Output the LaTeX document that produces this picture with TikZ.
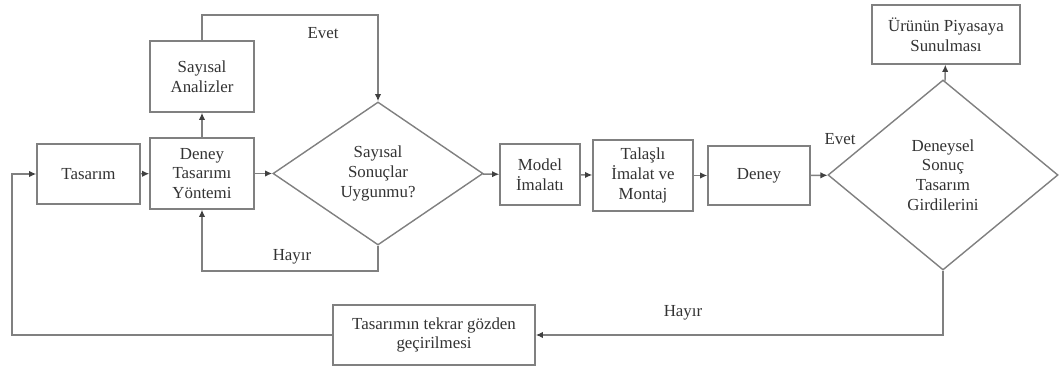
\documentclass[tikz,border=0pt]{standalone}
\usepackage{fontspec}
\setmainfont{Liberation Serif}
\newfontfamily\serifyazi{Liberation Serif}
\usetikzlibrary{shapes.geometric,arrows.meta}

\begin{document}
\begin{tikzpicture}[x=0.025cm,y=-0.025cm,line width=1pt,
    every node/.style={font=\serifyazi\fontsize{12}{14}\selectfont,text=black!80,align=center},
    kutu/.style={rectangle,draw=gray,fill=white,inner sep=2pt},
    karar/.style={diamond,draw=gray,fill=white,aspect=1,inner sep=0pt},
    ok/.style={draw=gray,-{Latex[length=1.8mm,width=1.6mm,color=black!75]}},
    hat/.style={draw=gray}]
  \path[use as bounding box] (0,0) rectangle (1059,372);
  \path
  (88.5,174) node [kutu,minimum width=2.575cm,minimum height=1.5cm] (tasarim) {Tasarım}
  (202,173.5) node [kutu,minimum width=2.6cm,minimum height=1.775cm] (dty) {Deney\\Tasarımı\\Yöntemi}
  (202,76.5) node [kutu,minimum width=2.6cm,minimum height=1.775cm] (analiz) {Sayısal\\Analizler}
  (378,173.5) node [karar,minimum width=5.25cm,minimum height=3.575cm] (karar1) {Sayısal\\Sonuçlar\\Uygunmu?}
  (540,174.5) node [kutu,minimum width=2.0cm,minimum height=1.525cm] (model) {Model\\İmalatı}
  (643,175.5) node [kutu,minimum width=2.5cm,minimum height=1.775cm] (talasli) {Talaşlı\\İmalat ve\\Montaj}
  (759,175.5) node [kutu,minimum width=2.55cm,minimum height=1.475cm] (deney) {Deney}
  (943,175) node [karar,minimum width=5.75cm,minimum height=4.75cm] (karar2) {Deneysel\\Sonuç\\Tasarım\\Girdilerini}
  (946,34.5) node [kutu,minimum width=3.7cm,minimum height=1.475cm] (piyasa) {Ürünün Piyasaya\\Sunulması}
  (434,335) node [kutu,minimum width=5.05cm,minimum height=1.5cm] (revize) {Tasarımın tekrar gözden\\geçirilmesi}

  (323,33) node (evet1) {Evet}
  (292,257) node (hayir1) {Hayır}
  (840,139) node (evet2) {Evet}
  (683,313) node (hayir2) {Hayır}
  ;
  % ana akis
  \draw[ok] (tasarim) -- (dty);
  \draw[ok] (dty) -- (analiz);
  \draw[ok] (dty) -- (karar1);
  \draw[ok] (karar1) -- (model);
  \draw[ok] (model) -- (talasli);
  \draw[ok] (talasli) -- (deney);
  \draw[ok] (deney) -- (karar2);
  \draw[ok] (karar2) -- (piyasa);
  % geri donusler
  \draw[ok] (analiz.north) |- (378,15) -- (karar1.north);
  \draw[ok] (karar1.south) |- (202,271) -- (dty.south);
  \draw[ok] (karar2.south) |- (revize.east);
  \draw[ok] (revize.west) -| (12,174) -- (tasarim.west);
\end{tikzpicture}
\end{document}
